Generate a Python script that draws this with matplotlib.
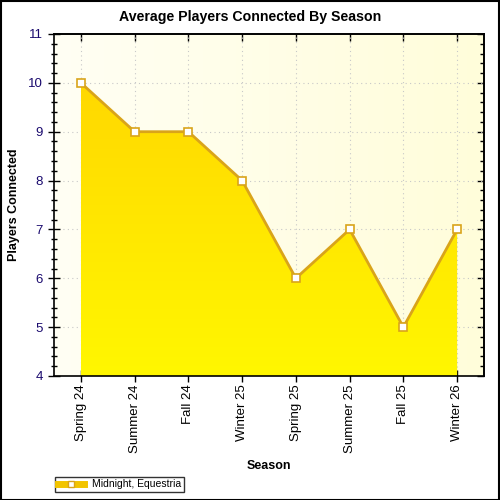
import numpy as np
import matplotlib
matplotlib.use("Agg")
import matplotlib.pyplot as plt
from matplotlib.colors import LinearSegmentedColormap
from matplotlib.patches import Rectangle
from matplotlib.lines import Line2D
from matplotlib.ticker import MultipleLocator

# data
seasons = ["Spring 24", "Summer 24", "Fall 24", "Winter 25",
           "Spring 25", "Summer 25", "Fall 25", "Winter 26"]
players = [10, 9, 9, 8, 6, 7, 5, 7]
series_name = "Midnight, Equestria"

plt.rcParams['font.family'] = ['Liberation Sans', 'DejaVu Sans']

fig = plt.figure(figsize=(5, 5), dpi=100)
fig.patch.set_facecolor("white")
fig.patches.append(Rectangle((0.001, 0.001), 0.997, 0.997, transform=fig.transFigure,
                             fill=False, edgecolor="black", linewidth=1.5))

ax = fig.add_axes([54 / 500, 124 / 500, 430 / 500, 342 / 500])
x = np.arange(len(seasons))
ax.set_xlim(-0.5, len(seasons) - 0.5)
ax.set_ylim(4, 11)

# background gradient
bg = LinearSegmentedColormap.from_list("bg", ["#FFFFF4", "#FFFDDA"])
grad = np.linspace(0, 1, 256).reshape(1, -1)
ax.imshow(grad, cmap=bg, aspect="auto", extent=(-0.5, 7.5, 4, 11),
          origin="lower", zorder=0)

# dotted grid at interior ticks only
for xv in x:
    ax.axvline(xv, color="#C8C8C8", linestyle=(0, (1, 3)), linewidth=0.8, zorder=1)
for yv in range(5, 11):
    ax.axhline(yv, color="#C8C8C8", linestyle=(0, (1, 3)), linewidth=0.8, zorder=1)

# filled area with vertical gradient
fill = ax.fill_between(x, players, 4, color="none", zorder=2)
fg = LinearSegmentedColormap.from_list("fg", ["#FFF700", "#FFD800"])
vgrad = np.linspace(0, 1, 256).reshape(-1, 1)
im = ax.imshow(vgrad, cmap=fg, aspect="auto", extent=(0, 7, 4, 10),
               origin="lower", zorder=2)
im.set_clip_path(fill.get_paths()[0], transform=ax.transData)

ax.plot(x, players, color="#D9A41A", linewidth=2, zorder=3,
        marker="s", markersize=5.5, markerfacecolor="white",
        markeredgecolor="#D9A41A", markeredgewidth=1.2)

ax.set_xticks(x)
ax.set_xticklabels(seasons, rotation=90, fontsize=9.5)
ax.yaxis.set_major_locator(MultipleLocator(1))
ax.yaxis.set_minor_locator(MultipleLocator(0.2))
ax.tick_params(axis="y", which="major", direction="inout", length=8, width=1,
               labelsize=9.5, labelcolor="#1A0A6E", pad=4)
ax.tick_params(axis="y", which="minor", direction="inout", length=5, width=1)
ax.tick_params(axis="x", which="major", direction="inout", length=8, width=1, pad=2)

# inward ticks on the right and top
ay = ax.secondary_yaxis("right")
ay.yaxis.set_major_locator(MultipleLocator(1))
ay.yaxis.set_minor_locator(MultipleLocator(0.2))
ay.tick_params(which="major", direction="in", length=5, width=1, labelright=False)
ay.tick_params(which="minor", direction="in", length=3, width=1)
axx = ax.secondary_xaxis("top")
axx.set_xticks(x)
axx.tick_params(direction="in", length=5, width=1, labeltop=False)
for a in (ax, ay, axx):
    for s in a.spines.values():
        s.set_linewidth(1.2)

fig.text(0.5, 1 - 17 / 500, "Average Players Connected By Season", fontsize=10.2,
         fontweight="bold", ha="center", va="center")
ax.set_xlabel("Season", fontsize=9, fontweight="bold")
ax.xaxis.set_label_coords(0.5, -0.245)
ax.set_ylabel("Players Connected", fontsize=9, fontweight="bold")
ax.yaxis.set_label_coords(-0.079, 0.5)

handle = Line2D([0], [0], color="#F2C400", linewidth=5, marker="s",
                markersize=5, markerfacecolor="white", markeredgecolor="#D9A41A")
leg = fig.legend([handle], [series_name], loc="lower left",
                 bbox_to_anchor=(55 / 500, 8 / 500), fontsize=7.5,
                 frameon=True, fancybox=False, edgecolor="black",
                 handlelength=2.5, borderpad=0.25, handletextpad=0.8,
                 borderaxespad=0)
leg.get_frame().set_linewidth(1)

fig.savefig("out.png", dpi=100)
